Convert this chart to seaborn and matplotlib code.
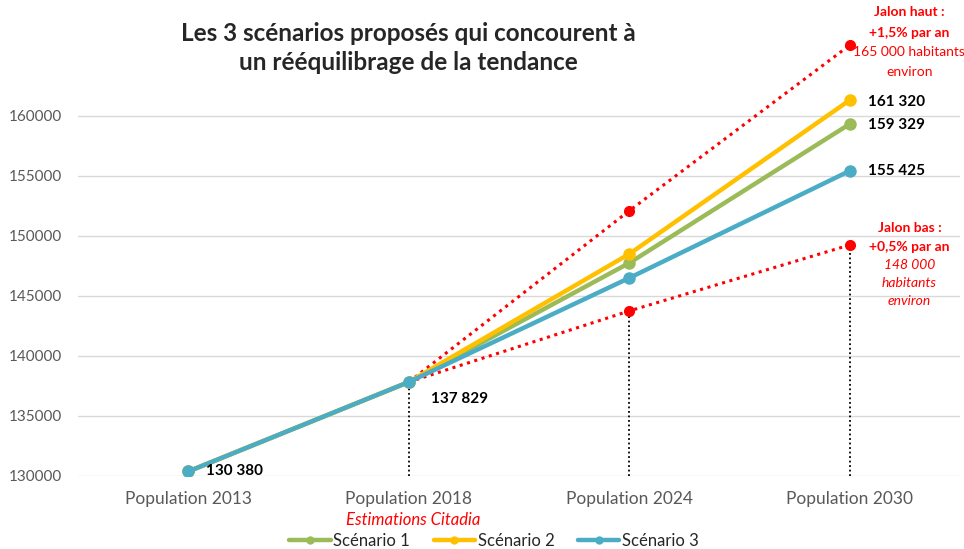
import pandas as pd
import matplotlib.pyplot as plt
import seaborn as sns

# Data
periods = ["Population 2013", "Population 2018", "Population 2024", "Population 2030"]
scenario_1 = [130380, 137829, 147750, 159329]
scenario_2 = [130380, 137829, 148500, 161320]
scenario_3 = [130380, 137829, 146500, 155425]
jalon_haut = [137829, 152100, 165900]   # 2018, 2024, 2030
jalon_bas = [137829, 143750, 149250]
labels_start = ["130 380", "137 829"]
labels_end = ["159 329", "161 320", "155 425"]

names = ["Scénario 1", "Scénario 2", "Scénario 3"]
colors = ["#9BBB59", "#FFC000", "#4BACC6"]

rows = []
for name, vals in zip(names, [scenario_1, scenario_2, scenario_3]):
    for i, v in enumerate(vals):
        rows.append({"x": i, "pop": v, "scenario": name})
df = pd.DataFrame(rows)

sns.set_theme(style="white")
plt.rcParams["font.family"] = ["Lato", "DejaVu Sans"]

fig = plt.figure(figsize=(9.64, 5.49), dpi=100)
ax = fig.add_axes([0.081, 0.133, 0.915, 0.809])

# Jalon lines (red dotted)
jx = [1, 2, 3]
ax.plot(jx, jalon_haut, color="red", linestyle=(0, (1, 1.5)), lw=2.2, zorder=2)
ax.plot(jx, jalon_bas, color="red", linestyle=(0, (1, 1.5)), lw=2.2, zorder=2)
ax.plot(jx[1:], jalon_haut[1:], "o", color="red", ms=7, zorder=4)
ax.plot(jx[1:], jalon_bas[1:], "o", color="red", ms=7, zorder=4)

# vertical dotted black drop lines
drops = [scenario_1[1], jalon_bas[1], jalon_bas[2]]
ax.vlines(jx, 130000, drops, colors="black", linestyles=(0, (1, 1.5)), lw=1.3, zorder=1)

# Scenario lines
sns.lineplot(data=df, x="x", y="pop", hue="scenario", palette=colors,
             marker="o", markersize=9, markeredgewidth=0, linewidth=3.2,
             ax=ax, zorder=3, legend=True)

# value labels
lab_kw = dict(fontsize=11, fontweight="bold", color="black", va="center")
ax.text(0.08, scenario_1[0], labels_start[0], **lab_kw)
ax.text(1.1, scenario_1[1] - 1400, labels_start[1], **lab_kw)
ax.text(3.08, scenario_1[3] - 50, labels_end[0], **lab_kw)
ax.text(3.08, scenario_2[3] - 150, labels_end[1], **lab_kw)
ax.text(3.08, scenario_3[3], labels_end[2], **lab_kw)

# Jalon annotations
red_kw = dict(color="red", ha="center", va="center", fontsize=10)
hx, bx = 3.27, 3.27
ax.text(hx, 168650, "Jalon haut :", fontweight="bold", **red_kw)
ax.text(hx, 166900, "+1,5% par an", fontweight="bold", **red_kw)
ax.text(hx, 165300, "165 000 habitants", **red_kw)
ax.text(hx, 163650, "environ", **red_kw)
ax.text(bx, 150650, "Jalon bas :", fontweight="bold", **red_kw)
ax.text(bx, 149100, "+0,5% par an", fontweight="bold", **red_kw)
ax.text(bx, 147550, "148 000", style="italic", **red_kw)
ax.text(bx, 146050, "habitants", style="italic", **red_kw)
ax.text(bx, 144550, "environ", style="italic", **red_kw)

# Axes styling
ax.set_xlim(-0.5, 3.5)
ax.set_ylim(130000, 167000)
ax.set_xticks(range(len(periods)))
ax.set_xticklabels(periods, fontsize=12.5, color="#595959")
ax.set_yticks(range(130000, 160001, 5000))
ax.set_yticklabels([str(v) for v in range(130000, 160001, 5000)], fontsize=11, color="#595959")
ax.tick_params(axis="y", pad=11.5, length=0)
ax.tick_params(axis="x", pad=11, length=0)
ax.yaxis.grid(True, color="#d9d9d9", lw=1)
ax.set_axisbelow(True)
for s in ax.spines.values():
    s.set_visible(False)
ax.set_xlabel("")
ax.set_ylabel("")
ax.patch.set_alpha(0)

fig.text(413 / 964, 1 - 520 / 549, "Estimations Citadia", color="red",
         style="italic", ha="center", va="center", fontsize=12)

# Title
fig.text(408 / 964, 1 - 48 / 549, "Les 3 scénarios proposés qui concourent à\nun rééquilibrage de la tendance",
         ha="center", va="center", fontsize=17.5, fontweight="bold", linespacing=1.3)

# Legend at bottom
leg = ax.legend(loc="center", bbox_to_anchor=(494 / 964, 1 - 541 / 549), bbox_transform=fig.transFigure,
                ncol=3, frameon=False, fontsize=12, handlelength=2.5, columnspacing=1.4,
                handletextpad=0.15, borderaxespad=0)
for h in leg.legend_handles:
    h.set_markersize(6)

plt.savefig("out.png", dpi=100)
